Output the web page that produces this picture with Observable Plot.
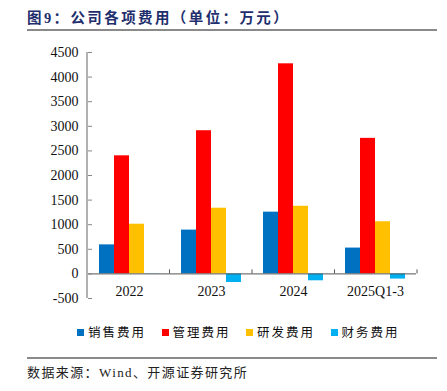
<!DOCTYPE html>
<html><head><meta charset="utf-8">
<script src="https://cdn.jsdelivr.net/npm/d3@7"></script>
<script src="https://cdn.jsdelivr.net/npm/@observablehq/plot@0.6"></script>
<style>
body{margin:0;background:#fff;width:447px;height:391px;position:relative;overflow:hidden;font-family:"Liberation Serif","Noto Sans CJK SC",serif;}
#title{position:absolute;left:27px;top:6px;font-size:14.5px;font-weight:bold;color:#1F2F6E;letter-spacing:2.4px;white-space:nowrap;}
.hr{position:absolute;left:27px;width:410px;height:2px;background:#8a8a8a;}
#chart{position:absolute;left:0;top:0;}
#legend{position:absolute;top:322px;left:77px;font-size:12.5px;letter-spacing:2px;white-space:nowrap;color:#111;}
#legend span.item{position:absolute;top:0;white-space:nowrap;}
#legend i{display:inline-block;width:7px;height:7px;margin-right:4px;vertical-align:1px;}
#caption{position:absolute;left:27px;top:362px;font-size:13px;letter-spacing:1.4px;color:#222;white-space:nowrap;}
</style></head>
<body>
<div id="title">图9：公司各项费用（单位：万元）</div>
<div class="hr" style="top:29px"></div>
<div id="chart"></div>
<div id="legend"></div>
<div class="hr" style="top:357px"></div>
<div id="caption">数据来源：Wind、开源证券研究所</div>
<script>
const categories = ["2022", "2023", "2024", "2025Q1-3"];
const seriesNames = ["销售费用", "管理费用", "研发费用", "财务费用"];
const seriesColors = ["#0070C0", "#FF0000", "#FFC000", "#00B0F0"];
const sales = [590, 890, 1255, 525];
const admin = [2400, 2910, 4270, 2755];
const rnd = [1010, 1335, 1375, 1060];
const finance = [-5, -175, -140, -105];
const yTicks = [-500, 0, 500, 1000, 1500, 2000, 2500, 3000, 3500, 4000, 4500];

const seriesValues = [sales, admin, rnd, finance];
const data = [];
categories.forEach((c, i) => seriesNames.forEach((s, j) => data.push({cat: c, series: s, value: seriesValues[j][i]})));

const chart = Plot.plot({
  width: 447, height: 310,
  marginTop: 52, marginBottom: 12, marginLeft: 87, marginRight: 30,
  style: {fontFamily: "'Liberation Serif', serif", fontSize: "14px", color: "#111", background: "transparent"},
  fx: {domain: categories, padding: 0, axis: null},
  x: {domain: seriesNames, paddingInner: 0, paddingOuter: 0.7, axis: null},
  y: {domain: [-500, 4500], axis: null},
  color: {domain: seriesNames, range: seriesColors},
  marks: [
    Plot.barY(data, {fx: "cat", x: "series", y: "value", fill: "series"}),
    Plot.ruleY([0], {stroke: "#555", strokeWidth: 1}),
    Plot.axisY({ticks: yTicks, label: null, tickSize: -4, tickPadding: 14, stroke: "#888", tickFormat: d => String(d), fill: "#111", fontSize: 14}),
    Plot.text(categories, {fx: d => d, y: () => 0, text: d => d, dy: 18, fontSize: 14, fill: "#111"})
  ]
});
document.getElementById("chart").appendChild(chart);

// y axis line and category boundary ticks from the library scales
const fx = chart.scale("fx"), y = chart.scale("y");
const fxScale = d3.scaleBand().domain(fx.domain).range(fx.range).paddingInner(0).paddingOuter(0);
const svg = d3.select(chart);
const x0 = fxScale(categories[0]);
svg.append("line").attr("x1", x0).attr("x2", x0).attr("y1", y.apply(4500)).attr("y2", y.apply(-500)).attr("stroke", "#888").attr("stroke-width", 1.3);
categories.forEach(c => {
  const xb = fxScale(c) + fxScale.bandwidth();
  svg.append("line").attr("x1", xb).attr("x2", xb).attr("y1", y.apply(0)).attr("y2", y.apply(0) - 4).attr("stroke", "#555");
});

// legend
const legend = document.getElementById("legend");
seriesNames.forEach((s, i) => {
  const item = document.createElement("span");
  item.className = "item";
  item.style.left = (i * 84.5) + "px";
  item.innerHTML = `<i style="background:${seriesColors[i]}"></i>${s}`;
  legend.appendChild(item);
});
</script>
</body></html>
